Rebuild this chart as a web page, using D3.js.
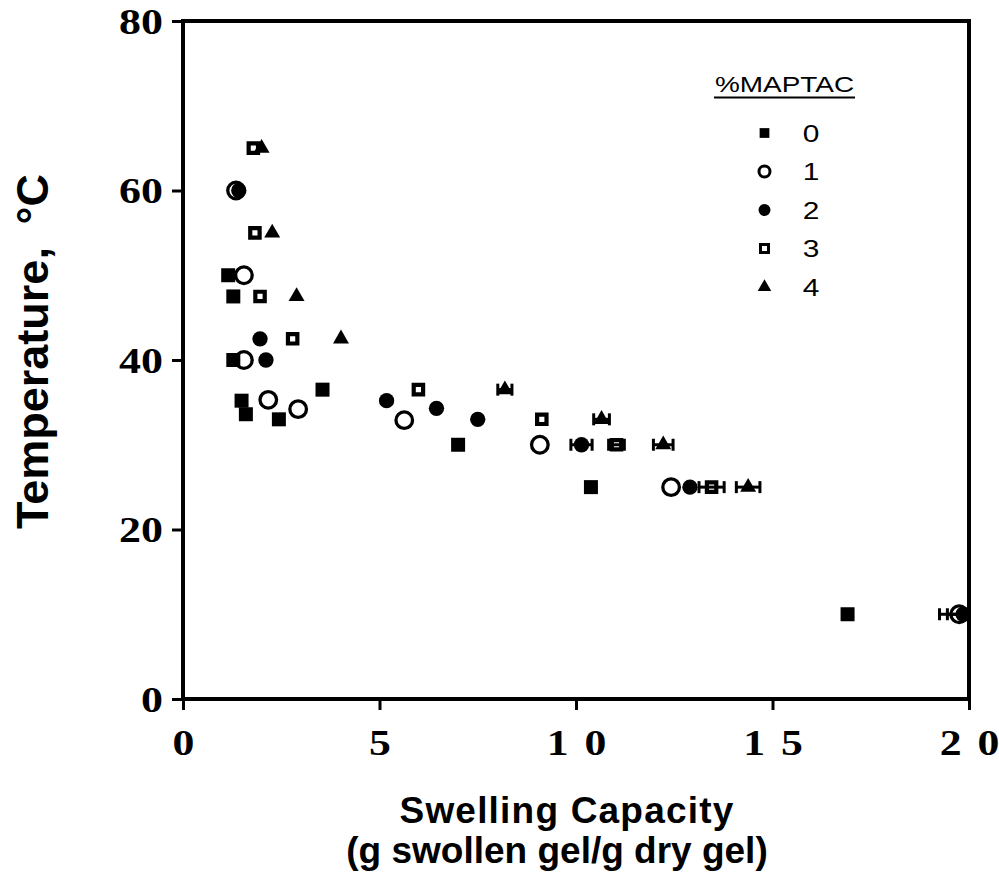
<!DOCTYPE html>
<html>
<head>
<meta charset="utf-8">
<script src="https://cdn.jsdelivr.net/npm/d3@7"></script>
<style>
  html, body { margin: 0; padding: 0; background: #fff; }
  svg { display: block; }
</style>
</head>
<body>
<svg id="chart" width="999" height="876"></svg>
<script>
// %MAPTAC content of each gel series
const groups = ["0", "1", "2", "3", "4"];

// swelling capacity (g swollen gel / g dry gel), temperature (°C) and
// horizontal error (g/g) for each series
const swell0 = [1.15, 1.28, 1.28, 1.49, 1.60, 2.44, 3.55, 7.00, 10.38, 16.91];
const temp0  = [50, 47.5, 40, 35.2, 33.6, 33, 36.5, 30, 25, 10];
const err0   = [0, 0, 0, 0, 0, 0, 0, 0, 0, 0];

const swell1 = [1.35, 1.55, 1.55, 2.17, 2.93, 5.63, 9.08, 12.42, 19.75];
const temp1  = [60, 50, 40, 35.3, 34.2, 32.9, 30, 25, 10];
const err1   = [0, 0, 0, 0, 0, 0, 0, 0, 0.30];

const swell2 = [1.42, 1.96, 2.11, 5.18, 6.45, 7.50, 10.14, 12.90, 19.85];
const temp2  = [60, 42.5, 40, 35.2, 34.3, 33, 30, 25, 10];
const err2   = [0, 0, 0, 0, 0, 0, 0.27, 0, 0.60];

const swell3 = [1.79, 1.83, 1.96, 2.79, 5.99, 9.13, 11.03, 13.45];
const temp3  = [65, 55, 47.5, 42.5, 36.5, 33, 30, 25];
const err3   = [0, 0, 0, 0, 0, 0, 0.20, 0.32];

const swell4 = [2.00, 2.27, 2.89, 4.02, 8.19, 10.65, 12.22, 14.38];
const temp4  = [65, 55, 47.5, 42.5, 36.5, 33, 30, 25];
const err4   = [0, 0, 0, 0, 0.18, 0.20, 0.25, 0.30];

const xTicks = [0, 5, 10, 15, 20];
const yTicks = [0, 20, 40, 60, 80];

const swellData = [swell0, swell1, swell2, swell3, swell4];
const tempData  = [temp0, temp1, temp2, temp3, temp4];
const errData   = [err0, err1, err2, err3, err4];

// marker style per series: filled square, open circle, filled circle, open square, filled triangle
const markers = [
  { type: d3.symbolSquare,   size: 196, fill: "#000", stroke: "none", sw: 0,   lsize: 95  },
  { type: d3.symbolCircle,   size: 216, fill: "none", stroke: "#000", sw: 3.3, lsize: 95  },
  { type: d3.symbolCircle,   size: 185, fill: "#000", stroke: "none", sw: 0,   lsize: 113 },
  { type: d3.symbolSquare,   size: 88,  fill: "none", stroke: "#000", sw: 4.2, lsize: 64  },
  { type: d3.symbolTriangle, size: 110, fill: "#000", stroke: "none", sw: 0,   lsize: 80  }
];

const margin = { left: 183, right: 30, top: 21, bottom: 177 };
const W = 999, H = 876;
const x0 = margin.left, x1 = W - margin.right;   // 183 .. 969
const y0 = H - margin.bottom, y1 = margin.top;   // 699 .. 21

const x = d3.scaleLinear().domain([0, 20]).range([x0, x1]);
const y = d3.scaleLinear().domain([0, 80]).range([y0, y1]);

const svg = d3.select("#chart");
const serif = "'Liberation Serif', 'Times New Roman', serif";
const sans = "'Liberation Sans', Arial, Helvetica, sans-serif";

svg.append("defs").append("clipPath").attr("id", "plotClip")
  .append("rect").attr("x", x0).attr("y", y1).attr("width", x1 - x0).attr("height", y0 - y1);

// y axis ticks and labels
const yAxis = svg.append("g")
  .attr("transform", `translate(${x0},0)`)
  .call(d3.axisLeft(y).tickValues(yTicks).tickSize(11).tickFormat(d3.format("d")));
yAxis.select(".domain").remove();
yAxis.selectAll(".tick line").attr("stroke", "#000").attr("stroke-width", 3);
yAxis.selectAll(".tick text")
  .attr("x", 0).attr("dy", null).attr("y", 12)
  .attr("transform", "translate(-20,0) scale(1.22,1)")
  .attr("text-anchor", "end")
  .attr("fill", "#000")
  .style("font-family", serif).style("font-weight", "bold").style("font-size", "36px");

// x axis ticks and labels (two-digit labels are letter-spaced)
const xAxis = svg.append("g")
  .attr("transform", `translate(0,${y0})`)
  .call(d3.axisBottom(x).tickValues(xTicks).tickSize(11)
    .tickFormat(d => String(d).split("").join(" ")));
xAxis.select(".domain").remove();
xAxis.selectAll(".tick line").attr("stroke", "#000").attr("stroke-width", 3);
xAxis.selectAll(".tick text")
  .attr("y", 56).attr("dy", null)
  .attr("transform", "scale(1.25,1)")
  .attr("fill", "#000")
  .style("font-family", serif).style("font-weight", "bold").style("font-size", "35px")
  .style("word-spacing", "4px");

// data points with horizontal error bars
const plot = svg.append("g");
groups.forEach((g, i) => {
  const pts = swellData[i].map((s, k) => ({ s, t: tempData[i][k], e: errData[i][k] }));
  const m = markers[i];

  const eb = plot.append("g").attr("clip-path", "url(#plotClip)")
    .attr("stroke", "#000").attr("stroke-width", 3);
  pts.filter(p => p.e > 0).forEach(p => {
    const yy = y(p.t), xa = x(p.s - p.e), xb = x(p.s + p.e);
    eb.append("line").attr("x1", xa).attr("x2", xb).attr("y1", yy).attr("y2", yy);
    eb.append("line").attr("x1", xa).attr("x2", xa).attr("y1", yy - 6).attr("y2", yy + 6);
    eb.append("line").attr("x1", xb).attr("x2", xb).attr("y1", yy - 6).attr("y2", yy + 6);
  });

  plot.append("g").selectAll("path").data(pts).join("path")
    .attr("transform", p => `translate(${x(p.s)},${y(p.t)})`)
    .attr("d", d3.symbol().type(m.type).size(m.size))
    .attr("fill", m.fill)
    .attr("stroke", m.stroke)
    .attr("stroke-width", m.sw);
});

// plot frame
svg.append("rect")
  .attr("x", x0).attr("y", y1).attr("width", x1 - x0).attr("height", y0 - y1)
  .attr("fill", "none").attr("stroke", "#000").attr("stroke-width", 4);

// legend
const legend = svg.append("g");
legend.append("text")
  .attr("transform", "translate(784.5,92) scale(1.27,1)")
  .attr("text-anchor", "middle")
  .style("font-family", sans).style("font-size", "22px")
  .text("%MAPTAC");
legend.append("line")
  .attr("x1", 714).attr("x2", 855).attr("y1", 97.5).attr("y2", 97.5)
  .attr("stroke", "#000").attr("stroke-width", 2);

const rowY = d3.scaleLinear().domain([0, 4]).range([133, 287]);
groups.forEach((g, i) => {
  const m = markers[i];
  const yy = rowY(i);
  legend.append("path")
    .attr("transform", `translate(764.5,${yy})`)
    .attr("d", d3.symbol().type(m.type).size(m.lsize))
    .attr("fill", m.fill)
    .attr("stroke", m.stroke)
    .attr("stroke-width", m.sw ? 3 : 0);
  legend.append("text")
    .attr("transform", `translate(811,${yy + 8.5}) scale(1.3,1)`)
    .attr("text-anchor", "middle")
    .style("font-family", sans).style("font-size", "23px")
    .text(g);
});

// axis titles
svg.append("text")
  .attr("transform", "translate(48,351.5) rotate(-90)")
  .attr("text-anchor", "middle")
  .style("font-family", sans).style("font-weight", "bold").style("font-size", "45px")
  .style("word-spacing", "10px")
  .text("Temperature, °C");

svg.append("text")
  .attr("x", 567).attr("y", 823)
  .attr("text-anchor", "middle")
  .style("font-family", sans).style("font-weight", "bold").style("font-size", "37px")
  .style("letter-spacing", "1.2px")
  .text("Swelling Capacity");

svg.append("text")
  .attr("x", 557).attr("y", 863)
  .attr("text-anchor", "middle")
  .style("font-family", sans).style("font-weight", "bold").style("font-size", "37px")
  .text("(g swollen gel/g dry gel)");
</script>
</body>
</html>
